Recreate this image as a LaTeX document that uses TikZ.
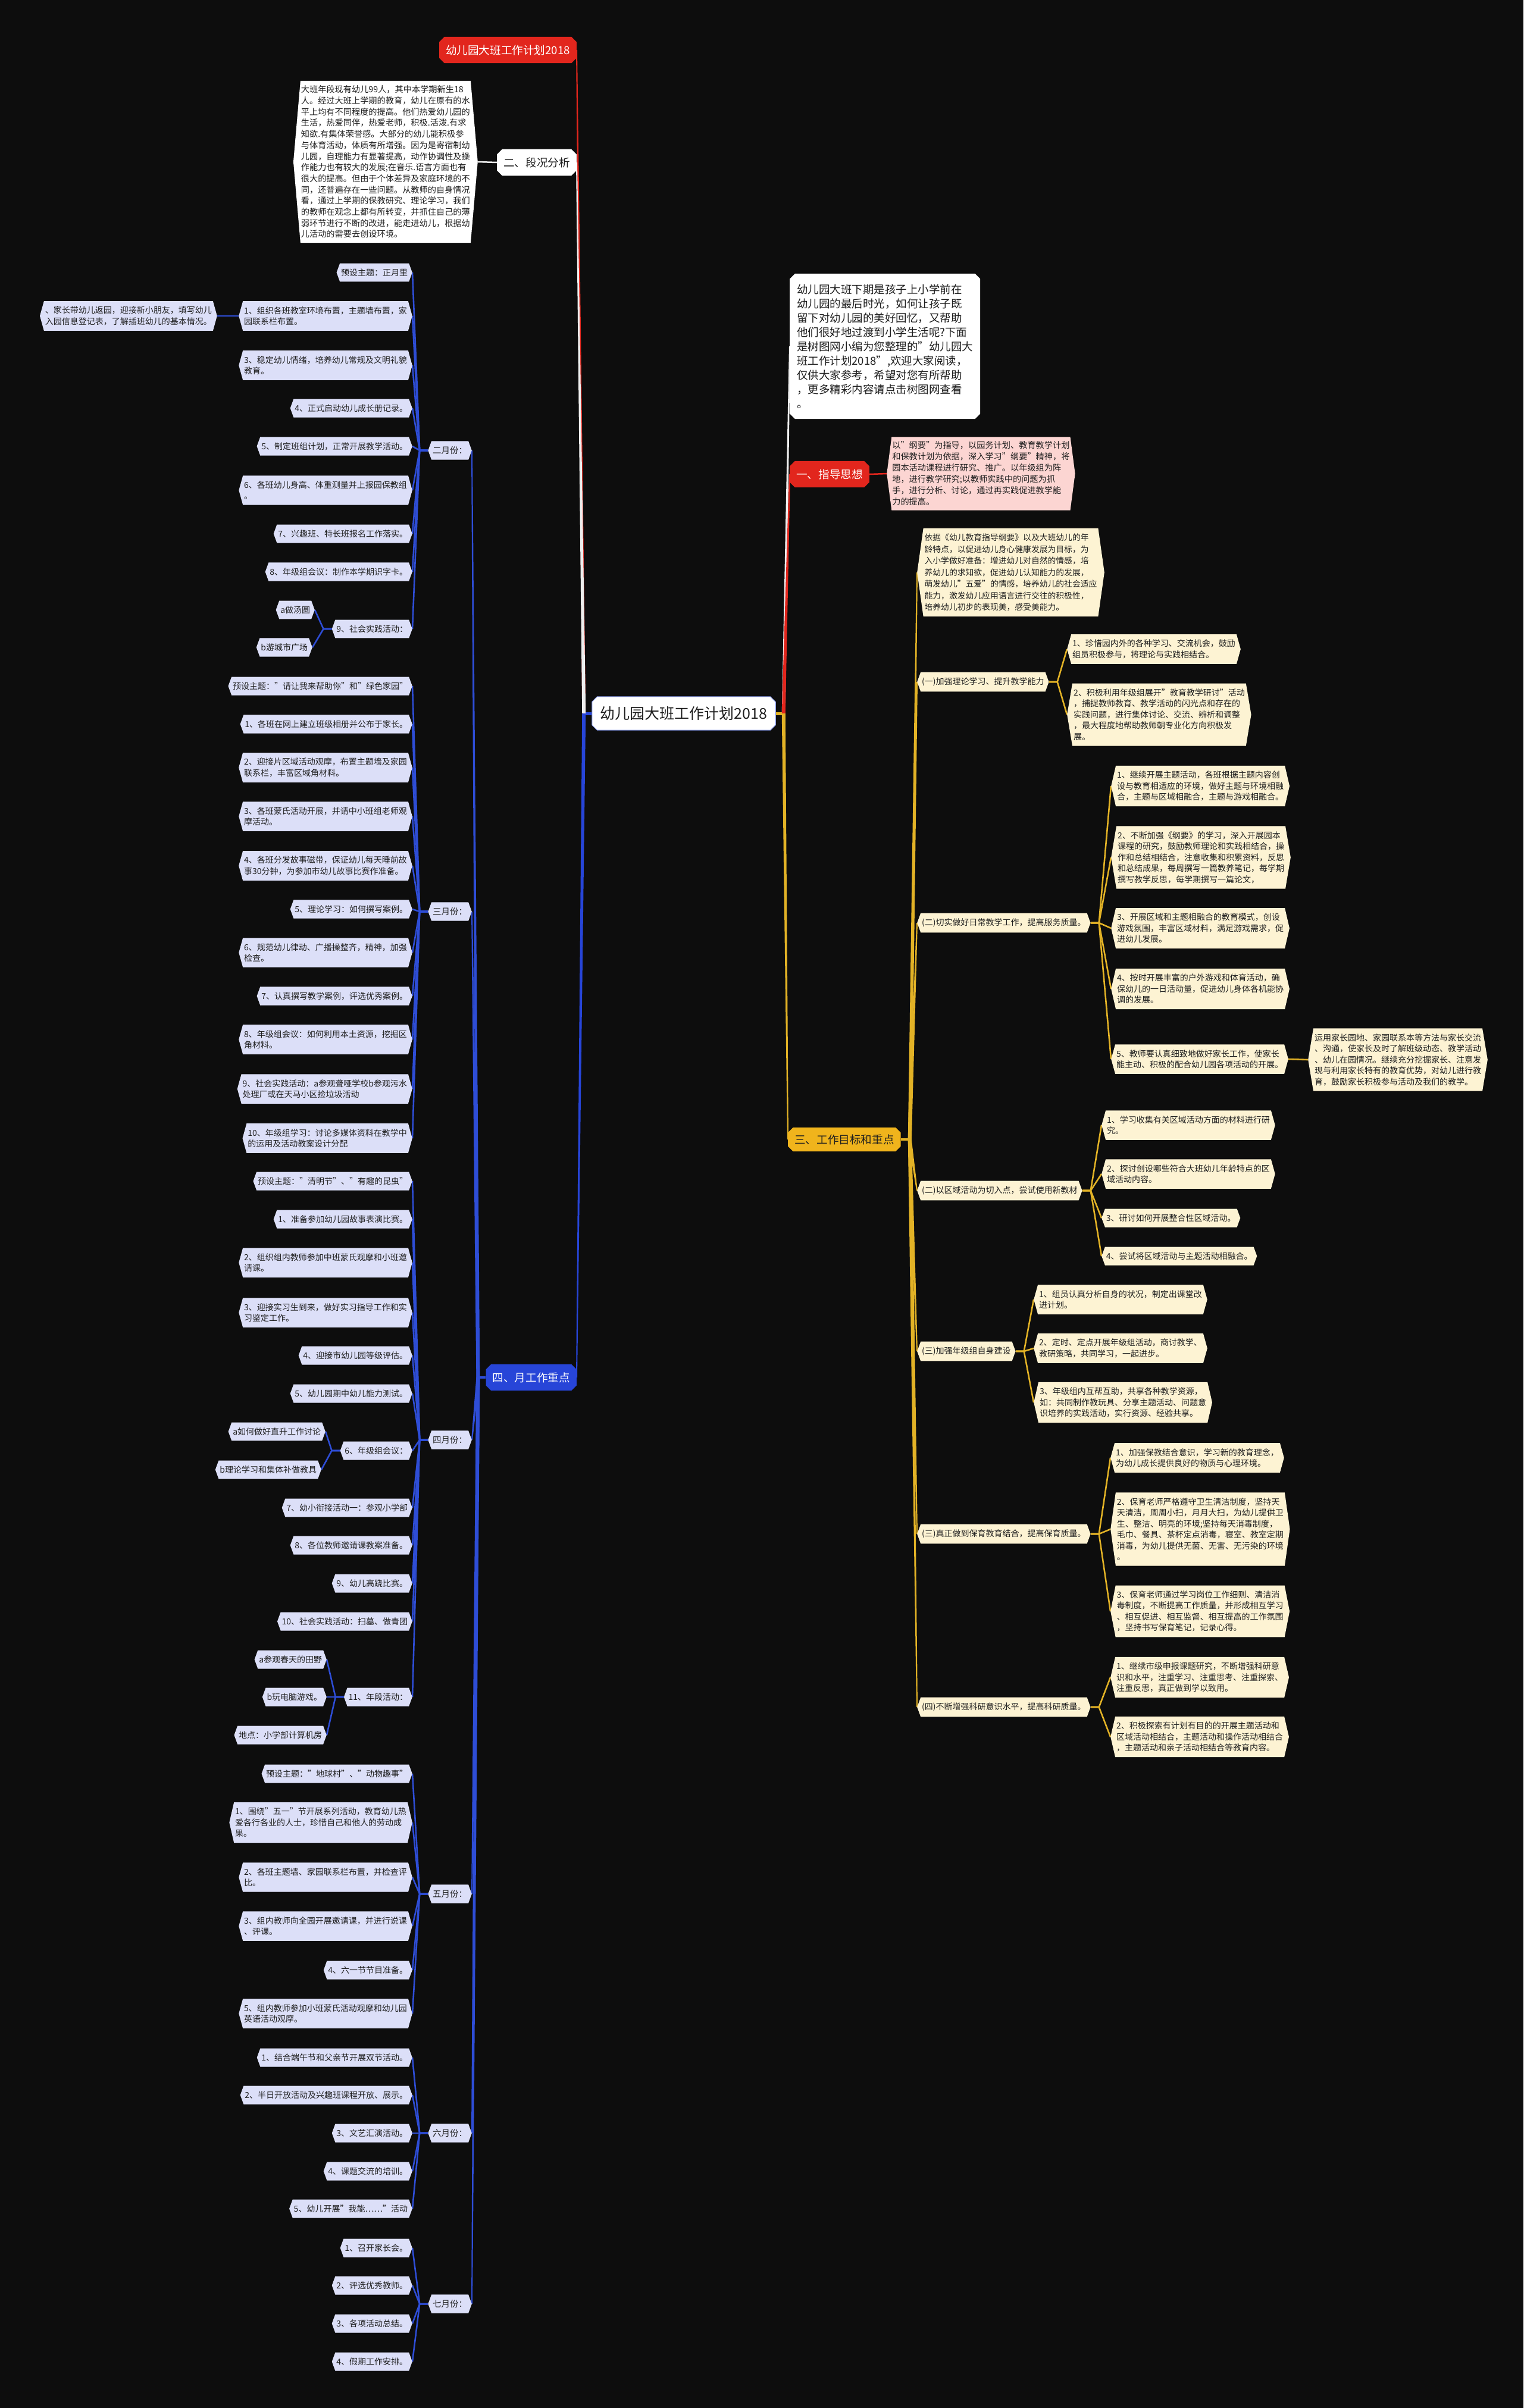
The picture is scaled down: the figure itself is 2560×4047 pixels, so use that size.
\documentclass[tikz,border=0pt]{standalone}
\usepackage{fontspec}
\setmainfont{Noto Sans CJK SC}
\usetikzlibrary{shapes.symbols,shapes.misc}
\definecolor{bgc}{HTML}{0D0D0D}
\definecolor{redc}{HTML}{E2261D}
\definecolor{bluec}{HTML}{2745D8}
\definecolor{bluel}{HTML}{2E4DD6}
\definecolor{lav}{HTML}{DCDFF8}
\definecolor{goldc}{HTML}{F0B41C}
\definecolor{goldl}{HTML}{E2B226}
\definecolor{cream}{HTML}{FDF3D3}
\definecolor{pinkc}{HTML}{FCD5D2}
\definecolor{txt}{HTML}{1F1F1F}
\definecolor{whitel}{HTML}{EEEEEE}
\pgfdeclarelayer{back}
\pgfdeclarelayer{lines}
\pgfsetlayers{back,lines,main}
\newcommand\tapr[3]{\fill[#1] ([xshift=-3pt]#2) -- ([xshift=3pt]#2) -- ([xshift=1pt]#3) -- ([xshift=-1pt]#3) -- cycle;}
\tikzset{
  base/.style={font=\fontsize{14}{18.5}\selectfont, text=txt, align=left, inner ysep=9pt, inner xsep=2pt},
  sig/.style={signal, signal to=west and east, signal pointer angle=#1},
  lv/.style={base, fill=lav, sig=#1}, lv/.default=140,
  cr/.style={base, fill=cream, sig=#1}, cr/.default=140,
  chb/.style={chamfered rectangle, chamfered rectangle xsep=5pt, font=\fontsize{18.6}{22}\selectfont, inner xsep=6pt, inner ysep=10pt, align=center},
  cb/.style={draw=bluel, line width=2.6pt, line join=round},
  cg/.style={draw=goldl, line width=2.6pt, line join=round},
}
\begin{document}
\begin{tikzpicture}[x=1pt,y=-1pt]
\begin{pgfonlayer}{back}
\fill[bgc] (0,0) rectangle (2560,4047);
\end{pgfonlayer}
\useasboundingbox (0,0) rectangle (2560,4047);

% ===== top-level =====
\node[chb, fill=redc, text=white, anchor=east] (title) at (969,84) {幼儿园大班工作计划2018};
\node[chb, fill=white, text=txt, anchor=east] (b2) at (969,273) {二、段况分析};
\node[base, fill=white, sig=170, anchor=east, font=\fontsize{14.2}{18.7}\selectfont, inner ysep=8pt, inner xsep=1pt] (d1) at (803,272) {大班年段现有幼儿99人，其中本学期新生18\\人。经过大班上学期的教育，幼儿在原有的水\\平上均有不同程度的提高。他们热爱幼儿园的\\生活，热爱同伴，热爱老师，积极.活泼.有求\\知欲.有集体荣誉感。大部分的幼儿能积极参\\与体育活动，体质有所增强。因为是寄宿制幼\\儿园，自理能力有显著提高，动作协调性及操\\作能力也有较大的发展;在音乐.语言方面也有\\很大的提高。但由于个体差异及家庭环境的不\\同，还普遍存在一些问题。从教师的自身情况\\看，通过上学期的保教研究、理论学习，我们\\的教师在观念上都有所转变，并抓住自己的薄\\弱环节进行不断的改进，能走进幼儿，根据幼\\儿活动的需要去创设环境。};
\node[chb, fill=white, text=txt, draw=bluel!60, line width=1pt, font=\fontsize{25}{28}\selectfont, inner xsep=9pt, inner ysep=13pt] (root) at (1149,1199) {幼儿园大班工作计划2018};
\node[chb, fill=white, text=txt, anchor=west, align=left, font=\fontsize{18.5}{24}\selectfont, inner xsep=7pt, inner ysep=14pt] (intro) at (1327,582) {幼儿园大班下期是孩子上小学前在\\幼儿园的最后时光，如何让孩子既\\留下对幼儿园的美好回忆，又帮助\\他们很好地过渡到小学生活呢?下面\\是树图网小编为您整理的"幼儿园大\\班工作计划2018",欢迎大家阅读，\\仅供大家参考，希望对您有所帮助\\，更多精彩内容请点击树图网查看\\。};
\node[chb, fill=redc, text=white, anchor=west] (b1) at (1327,797) {一、指导思想};
\node[base, fill=pinkc, sig=165, anchor=west, font=\fontsize{14.2}{19}\selectfont, inner ysep=7.5pt, inner xsep=1pt] (r1) at (1490,796) {以"纲要"为指导，以园务计划、教育教学计划\\和保教计划为依据，深入学习"纲要"精神，将\\园本活动课程进行研究、推广。以年级组为阵\\地，进行教学研究;以教师实践中的问题为抓\\手，进行分析、讨论，通过再实践促进教学能\\力的提高。};
\node[chb, fill=goldc, text=txt, anchor=west, inner ysep=8pt] (b3) at (1324,1915) {三、工作目标和重点};
\node[chb, fill=bluec, text=white, anchor=east] (b4) at (969,2315) {四、月工作重点};

% ===== months =====
\node[lv, anchor=east, font=\fontsize{14.5}{18}\selectfont] (m2) at (793,757) {二月份：};
\node[lv, anchor=east, font=\fontsize{14.5}{18}\selectfont] (m3) at (793,1532) {三月份：};
\node[lv, anchor=east, font=\fontsize{14.5}{18}\selectfont] (m4) at (793,2420) {四月份：};
\node[lv, anchor=east, font=\fontsize{14.5}{18}\selectfont] (m5) at (793,3183) {五月份：};
\node[lv, anchor=east, font=\fontsize{14.5}{18}\selectfont] (m6) at (793,3585) {六月份：};
\node[lv, anchor=east, font=\fontsize{14.5}{18}\selectfont] (m7) at (793,3872) {七月份：};

% February
\node[lv, anchor=east] (m2a) at (693,458) {预设主题：正月里};
\node[lv=149, anchor=east] (m2b) at (693,531) {1、组织各班教室环境布置，主题墙布置，家\\园联系栏布置。};
\node[lv=149, anchor=east] (m2bc) at (365,531) {、家长带幼儿返园，迎接新小朋友，填写幼儿\\入园信息登记表，了解插班幼儿的基本情况。};
\node[lv=149, anchor=east] (m2c) at (693,614) {3、稳定幼儿情绪，培养幼儿常规及文明礼貌\\教育。};
\node[lv, anchor=east] (m2d) at (693,686) {4、正式启动幼儿成长册记录。};
\node[lv, anchor=east] (m2e) at (693,750) {5、制定班组计划，正常开展教学活动。};
\node[lv=149, anchor=east] (m2f) at (693,824) {6、各班幼儿身高、体重测量并上报园保教组\\。};
\node[lv, anchor=east] (m2g) at (693,897) {7、兴趣班、特长班报名工作落实。};
\node[lv, anchor=east] (m2h) at (693,961) {8、年级组会议：制作本学期识字卡。};
\node[lv, anchor=east] (m2i) at (693,1057) {9、社会实践活动：};
\node[lv, anchor=east] (m2i1) at (529,1025) {a做汤圆};
\node[lv, anchor=east] (m2i2) at (525,1088) {b游城市广场};

% March
\node[lv, anchor=east] (m3a) at (693,1153) {预设主题："请让我来帮助你"和"绿色家园"};
\node[lv, anchor=east] (m3b) at (693,1217) {1、各班在网上建立班级相册并公布于家长。};
\node[lv=149, anchor=east] (m3c) at (693,1290) {2、迎接片区域活动观摩，布置主题墙及家园\\联系栏，丰富区域角材料。};
\node[lv=149, anchor=east] (m3d) at (693,1372) {3、各班蒙氏活动开展，并请中小班组老师观\\摩活动。};
\node[lv=149, anchor=east] (m3e) at (693,1455) {4、各班分发故事磁带，保证幼儿每天睡前故\\事30分钟，为参加市幼儿故事比赛作准备。};
\node[lv, anchor=east] (m3f) at (693,1528) {5、理论学习：如何撰写案例。};
\node[lv=149, anchor=east] (m3g) at (693,1601) {6、规范幼儿律动、广播操整齐，精神，加强\\检查。};
\node[lv, anchor=east] (m3h) at (693,1674) {7、认真撰写教学案例，评选优秀案例。};
\node[lv=149, anchor=east] (m3i) at (693,1747) {8、年级组会议：如何利用本土资源，挖掘区\\角材料。};
\node[lv=149, anchor=east] (m3j) at (693,1830) {9、社会实践活动：a参观聋哑学校b参观污水\\处理厂或在天马小区捡垃圾活动};
\node[lv=149, anchor=east] (m3k) at (693,1913) {10、年级组学习：讨论多媒体资料在教学中\\的运用及活动教案设计分配};

% April
\node[lv, anchor=east] (m4a) at (693,1985) {预设主题："清明节"、"有趣的昆虫"};
\node[lv, anchor=east] (m4b) at (693,2049) {1、准备参加幼儿园故事表演比赛。};
\node[lv=149, anchor=east] (m4c) at (693,2122) {2、组织组内教师参加中班蒙氏观摩和小班邀\\请课。};
\node[lv=149, anchor=east] (m4d) at (693,2206) {3、迎接实习生到来，做好实习指导工作和实\\习鉴定工作。};
\node[lv, anchor=east] (m4e) at (693,2278) {4、迎接市幼儿园等级评估。};
\node[lv, anchor=east] (m4f) at (693,2342) {5、幼儿园期中幼儿能力测试。};
\node[lv, anchor=east] (m4g) at (693,2438) {6、年级组会议：};
\node[lv, anchor=east] (m4g1) at (547,2406) {a如何做好直升工作讨论};
\node[lv, anchor=east] (m4g2) at (540,2470) {b理论学习和集体补做教具};
\node[lv, anchor=east] (m4h) at (693,2534) {7、幼小衔接活动一：参观小学部};
\node[lv, anchor=east] (m4i) at (693,2597) {8、各位教师邀请课教案准备。};
\node[lv, anchor=east] (m4j) at (693,2661) {9、幼儿高跷比赛。};
\node[lv, anchor=east] (m4k) at (693,2725) {10、社会实践活动：扫墓、做青团};
\node[lv, anchor=east] (m4l) at (693,2852) {11、年段活动：};
\node[lv, anchor=east] (m4l1) at (549,2789) {a参观春天的田野};
\node[lv, anchor=east] (m4l2) at (549,2852) {b玩电脑游戏。};
\node[lv, anchor=east] (m4l3) at (549,2916) {地点：小学部计算机房};

% May
\node[lv, anchor=east] (m5a) at (693,2981) {预设主题："地球村"、"动物趣事"};
\node[lv=154, anchor=east] (m5b) at (693,3063) {1、围绕"五一"节开展系列活动，教育幼儿热\\爱各行各业的人士，珍惜自己和他人的劳动成\\果。};
\node[lv=149, anchor=east] (m5c) at (693,3155) {2、各班主题墙、家园联系栏布置，并检查评\\比。};
\node[lv=149, anchor=east] (m5d) at (693,3237) {3、组内教师向全园开展邀请课，并进行说课\\、评课。};
\node[lv, anchor=east] (m5e) at (693,3311) {4、六一节节目准备。};
\node[lv=149, anchor=east] (m5f) at (693,3384) {5、组内教师参加小班蒙氏活动观摩和幼儿园\\英语活动观摩。};

% June
\node[lv, anchor=east] (m6a) at (693,3458) {1、结合端午节和父亲节开展双节活动。};
\node[lv, anchor=east] (m6b) at (693,3521) {2、半日开放活动及兴趣班课程开放、展示。};
\node[lv, anchor=east] (m6c) at (693,3585) {3、文艺汇演活动。};
\node[lv, anchor=east] (m6d) at (693,3649) {4、课题交流的培训。};
\node[lv, anchor=east] (m6e) at (693,3712) {5、幼儿开展"我能……"活动};

% July
\node[lv, anchor=east] (m7a) at (693,3778) {1、召开家长会。};
\node[lv, anchor=east] (m7b) at (693,3841) {2、评选优秀教师。};
\node[lv, anchor=east] (m7c) at (693,3905) {3、各项活动总结。};
\node[lv, anchor=east] (m7d) at (693,3969) {4、假期工作安排。};

% ===== right side: goals =====
\node[cr=164, anchor=west, font=\fontsize{13.8}{19.5}\selectfont] (g0) at (1541,962) {依据《幼儿教育指导纲要》以及大班幼儿的年\\龄特点，以促进幼儿身心健康发展为目标，为\\入小学做好准备：增进幼儿对自然的情感，培\\养幼儿的求知欲，促进幼儿认知能力的发展，\\萌发幼儿"五爱"的情感，培养幼儿的社会适应\\能力，激发幼儿应用语言进行交往的积极性，\\培养幼儿初步的表现美，感受美能力。};
\node[cr, anchor=west] (g1) at (1541,1146) {(一)加强理论学习、提升教学能力};
\node[cr=149, anchor=west] (g1a) at (1793,1091) {1、珍惜园内外的各种学习、交流机会，鼓励\\组员积极参与，将理论与实践相结合。};
\node[cr=161, anchor=west] (g1b) at (1793,1201) {2、积极利用年级组展开"教育教学研讨"活动\\，捕捉教师教育、教学活动的闪光点和存在的\\实践问题，进行集体讨论、交流、辨析和调整\\，最大程度地帮助教师朝专业化方向积极发\\展。};
\node[cr, anchor=west] (g2) at (1541,1551) {(二)切实做好日常教学工作，提高服务质量。};
\node[cr=154, anchor=west] (g2a) at (1867,1321) {1、继续开展主题活动，各班根据主题内容创\\设与教育相适应的环境，做好主题与环境相融\\合，主题与区域相融合，主题与游戏相融合。};
\node[cr=161, anchor=west] (g2b) at (1867,1441) {2、不断加强《纲要》的学习，深入开展园本\\课程的研究，鼓励教师理论和实践相结合，操\\作和总结相结合，注意收集和积累资料，反思\\和总结成果，每周撰写一篇教养笔记，每学期\\撰写教学反思，每学期撰写一篇论文，};
\node[cr=154, anchor=west] (g2c) at (1867,1560) {3、开展区域和主题相融合的教育模式，创设\\游戏氛围，丰富区域材料，满足游戏需求，促\\进幼儿发展。};
\node[cr=154, anchor=west] (g2d) at (1867,1662) {4、按时开展丰富的户外游戏和体育活动，确\\保幼儿的一日活动量，促进幼儿身体各机能协\\调的发展。};
\node[cr=149, anchor=west] (g2e) at (1867,1780) {5、教师要认真细致地做好家长工作，使家长\\能主动、积极的配合幼儿园各项活动的开展。};
\node[cr=161, anchor=west] (g2e1) at (2198,1781) {运用家长园地、家园联系本等方法与家长交流\\、沟通，使家长及时了解班级动态、教学活动\\、幼儿在园情况。继续充分挖掘家长、注意发\\现与利用家长特有的教育优势，对幼儿进行教\\育，鼓励家长积极参与活动及我们的教学。};
\node[cr, anchor=west] (g3) at (1541,2001) {(二)以区域活动为切入点，尝试使用新教材};
\node[cr=149, anchor=west] (g3a) at (1851,1891) {1、学习收集有关区域活动方面的材料进行研\\究。};
\node[cr=149, anchor=west] (g3b) at (1851,1973) {2、探讨创设哪些符合大班幼儿年龄特点的区\\域活动内容。};
\node[cr, anchor=west] (g3c) at (1851,2047) {3、研讨如何开展整合性区域活动。};
\node[cr, anchor=west] (g3d) at (1851,2111) {4、尝试将区域活动与主题活动相融合。};
\node[cr, anchor=west] (g4) at (1541,2271) {(三)加强年级组自身建设};
\node[cr=149, anchor=west] (g4a) at (1737,2184) {1、组员认真分析自身的状况，制定出课堂改\\进计划。};
\node[cr=149, anchor=west] (g4b) at (1737,2266) {2、定时、定点开展年级组活动，商讨教学、\\教研策略，共同学习，一起进步。};
\node[cr=154, anchor=west] (g4c) at (1737,2357) {3、年级组内互帮互助，共享各种教学资源，\\如：共同制作教玩具、分享主题活动、问题意\\识培养的实践活动，实行资源、经验共享。};
\node[cr, anchor=west] (g5) at (1541,2578) {(三)真正做到保育教育结合，提高保育质量。};
\node[cr=149, anchor=west] (g5a) at (1866,2450) {1、加强保教结合意识，学习新的教育理念，\\为幼儿成长提供良好的物质与心理环境。};
\node[cr=164, anchor=west] (g5b) at (1866,2570) {2、保育老师严格遵守卫生清洁制度，坚持天\\天清洁，周周小扫，月月大扫，为幼儿提供卫\\生、整洁、明亮的环境;坚持每天消毒制度，\\毛巾、餐具、茶杯定点消毒，寝室、教室定期\\消毒，为幼儿提供无菌、无害、无污染的环境\\。};
\node[cr=158, anchor=west] (g5c) at (1866,2708) {3、保育老师通过学习岗位工作细则、清洁消\\毒制度，不断提高工作质量，并形成相互学习\\、相互促进、相互监督、相互提高的工作氛围\\，坚持书写保育笔记，记录心得。};
\node[cr, anchor=west] (g6) at (1541,2869) {(四)不断增强科研意识水平，提高科研质量。};
\node[cr=154, anchor=west] (g6a) at (1866,2819) {1、继续市级申报课题研究，不断增强科研意\\识和水平，注重学习、注重思考、注重探索、\\注重反思，真正做到学以致用。};
\node[cr=154, anchor=west] (g6b) at (1866,2919) {2、积极探索有计划有目的的开展主题活动和\\区域活动相结合，主题活动和操作活动相结合\\，主题活动和亲子活动相结合等教育内容。};

% ===== connectors =====
\begin{pgfonlayer}{lines}
\coordinate (jl) at ([xshift=-13pt]root.west);
\coordinate (jr) at ([xshift=13pt]root.east);
\draw[line width=5pt, bluec] (root.west) -- (jl);
\draw[line width=5pt, goldl] (root.east) -- (jr);
\tapr{redc}{jl}{title.east}
\tapr{whitel}{jl}{b2.east}
\tapr{bluec}{jl}{b4.east}
\tapr{whitel}{jr}{intro.west}
\tapr{redc}{jr}{b1.west}
\tapr{goldl}{jr}{b3.west}
\draw[line width=2.5pt, whitel] (b2.west) -- (d1.east);
\draw[line width=2.5pt, redc] (b1.east) -- (r1.west);
% blue branch
\coordinate (jb4) at ([xshift=-13pt]b4.west);
\draw[line width=3.5pt, bluel] (b4.west) -- (jb4);
\foreach \c in {m2,m3,m4,m5,m6,m7} {\tapr{bluel}{jb4}{\c.east}}
\foreach \c in {m2a,m2b,m2c,m2d,m2e,m2f,m2g,m2h,m2i} \draw[cb] (m2.west) -- ++(-14,0) -- (\c.east);
\draw[cb] (m2b.west) -- (m2bc.east);
\foreach \c in {m2i1,m2i2} \draw[cb] (m2i.west) -- ++(-14,0) -- (\c.east);
\foreach \c in {m3a,m3b,m3c,m3d,m3e,m3f,m3g,m3h,m3i,m3j,m3k} \draw[cb] (m3.west) -- ++(-14,0) -- (\c.east);
\foreach \c in {m4a,m4b,m4c,m4d,m4e,m4f,m4g,m4h,m4i,m4j,m4k,m4l} \draw[cb] (m4.west) -- ++(-14,0) -- (\c.east);
\foreach \c in {m4g1,m4g2} \draw[cb] (m4g.west) -- ++(-14,0) -- (\c.east);
\foreach \c in {m4l1,m4l2,m4l3} \draw[cb] (m4l.west) -- ++(-14,0) -- (\c.east);
\foreach \c in {m5a,m5b,m5c,m5d,m5e,m5f} \draw[cb] (m5.west) -- ++(-14,0) -- (\c.east);
\foreach \c in {m6a,m6b,m6c,m6d,m6e} \draw[cb] (m6.west) -- ++(-14,0) -- (\c.east);
\foreach \c in {m7a,m7b,m7c,m7d} \draw[cb] (m7.west) -- ++(-14,0) -- (\c.east);
% gold branch
\coordinate (jb3) at ([xshift=15pt]b3.east);
\draw[line width=3.5pt, goldl] (b3.east) -- (jb3);
\foreach \c in {g0,g1,g2,g3,g4,g5,g6} {\tapr{goldl}{jb3}{\c.west}}
\foreach \c in {g1a,g1b} \draw[cg] (g1.east) -- ++(14,0) -- (\c.west);
\foreach \c in {g2a,g2b,g2c,g2d,g2e} \draw[cg] (g2.east) -- ++(14,0) -- (\c.west);
\draw[cg] (g2e.east) -- (g2e1.west);
\foreach \c in {g3a,g3b,g3c,g3d} \draw[cg] (g3.east) -- ++(14,0) -- (\c.west);
\foreach \c in {g4a,g4b,g4c} \draw[cg] (g4.east) -- ++(14,0) -- (\c.west);
\foreach \c in {g5a,g5b,g5c} \draw[cg] (g5.east) -- ++(14,0) -- (\c.west);
\foreach \c in {g6a,g6b} \draw[cg] (g6.east) -- ++(14,0) -- (\c.west);
\end{pgfonlayer}
\end{tikzpicture}
\end{document}
